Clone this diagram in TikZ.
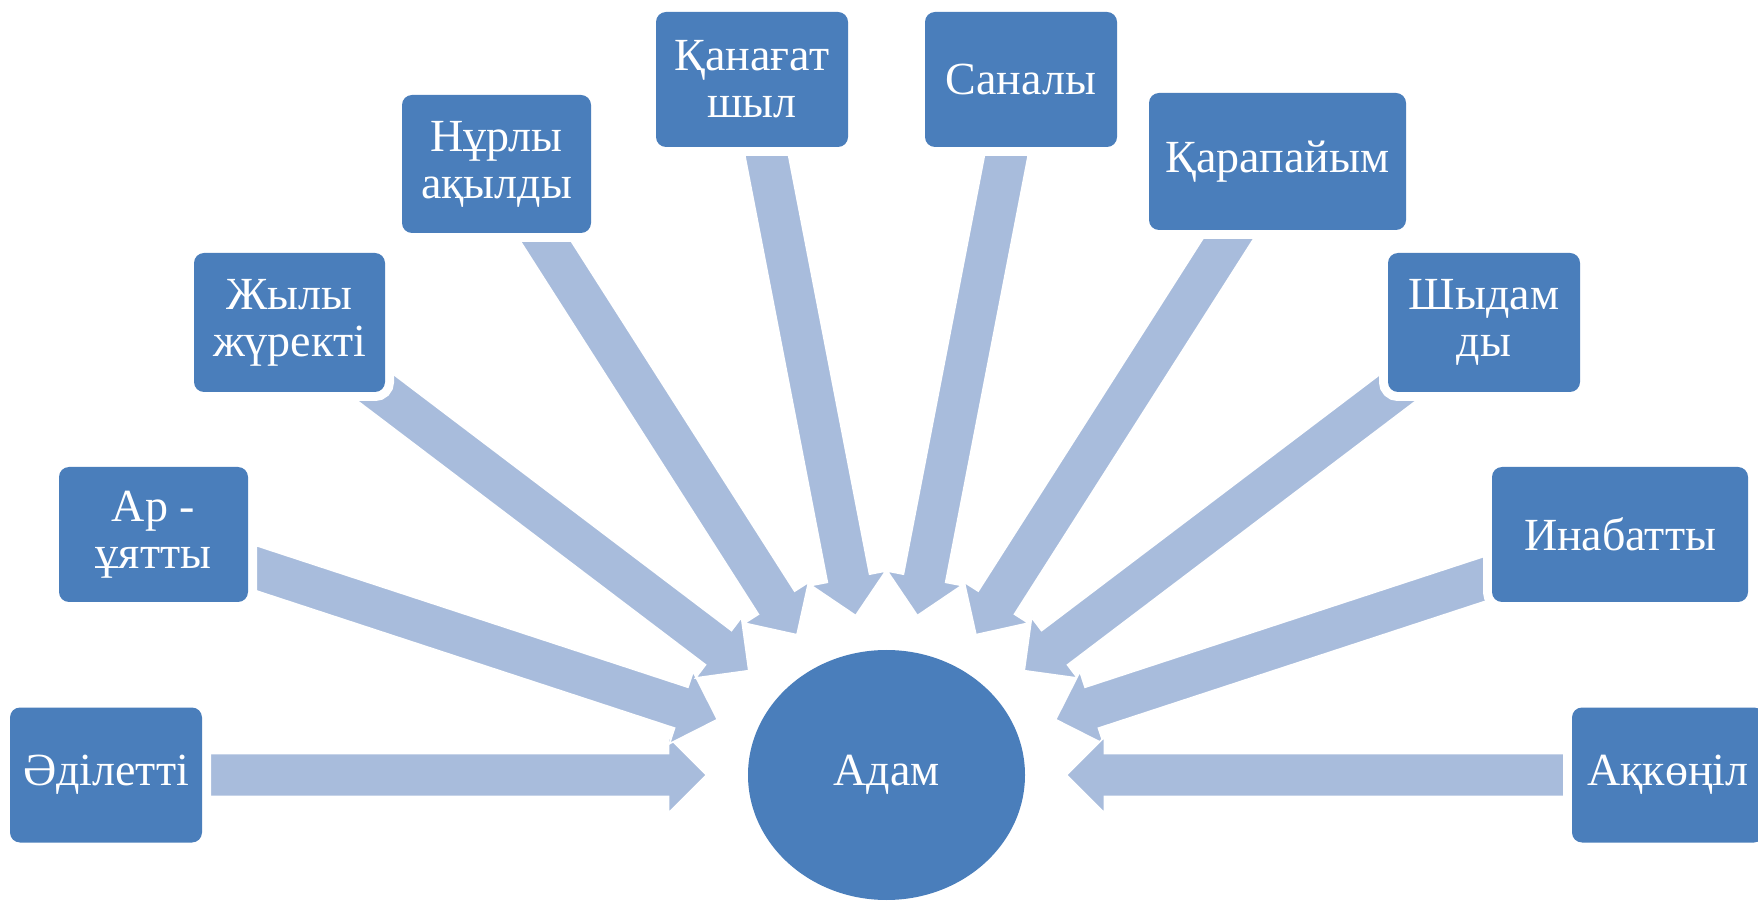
\documentclass[tikz,border=0pt]{standalone}
\usepackage{fontspec}
\setmainfont{Liberation Serif}
\usetikzlibrary{calc,shapes.geometric}
\pgfdeclarelayer{background}
\pgfsetlayers{background,main}
\definecolor{boxblue}{HTML}{4A7EBB}
\definecolor{arrowblue}{HTML}{A8BCDC}
\tikzset{
  quality/.style={rounded corners=5pt, fill=boxblue, inner sep=0pt, align=center,
    text=white, font=\fontsize{23pt}{23.5pt}\selectfont,
    minimum height=67.5pt,
    preaction={draw=white, line width=9pt, rounded corners=5pt}},
  centre/.style={ellipse, fill=boxblue, inner sep=0pt, text=white,
    minimum width=138.5pt, minimum height=125pt,
    font=\fontsize{23pt}{23.5pt}\selectfont},
  arrowbody/.style={fill=arrowblue, draw=white, line width=0.8pt, line join=miter}
}
\newcommand\radarrow[2]{%
  \pgfmathsetmacro\tipd{#2}%
  \pgfmathsetmacro\based{#2+19}%
  \coordinate (tip-#1) at ($(adam.center)!\tipd pt!(#1.center)$);
  \coordinate (hb-#1) at ($(adam.center)!\based pt!(#1.center)$);
  \filldraw[arrowbody] (tip-#1)
    -- ($(hb-#1)!19pt!90:(#1.center)$)
    -- ($(hb-#1)!10.75pt!90:(#1.center)$)
    -- ($(#1.center)!10.75pt!-90:(adam.center)$)
    -- ($(#1.center)!10.75pt!90:(adam.center)$)
    -- ($(hb-#1)!10.75pt!-90:(#1.center)$)
    -- ($(hb-#1)!19pt!-90:(#1.center)$)
    -- cycle;}
\begin{document}
\begin{tikzpicture}[x=0.5pt,y=0.5pt]
\useasboundingbox (0,0) rectangle (1758,901);
\node[centre] (adam) at (886.5,126) {Адам};
\node[quality, minimum width=96pt] (adil) at (106,126) {Әділетті};
\node[quality, minimum width=94.5pt] (ar) at (153.5,366.5) {Ар -\\ұятты};
\node[quality, minimum width=95.5pt, minimum height=69.5pt] (zhyly) at (289.5,578.5) {Жылы\\жүректі};
\node[quality, minimum width=94.5pt, minimum height=69pt] (nurly) at (496.5,737) {Нұрлы\\ақылды};
\node[quality, minimum width=96pt] (qanag) at (752,821.5) {Қанағат\\шыл};
\node[quality, minimum width=96pt] (sanaly) at (1021,821.5) {Саналы};
\node[quality, minimum width=128.5pt, minimum height=68.5pt] (qarap) at (1277.5,739.5) {Қарапайым};
\node[quality, minimum width=96pt, minimum height=69.5pt] (shydam) at (1484,578.5) {Шыдам\\ды};
\node[quality, minimum width=128pt] (inab) at (1620,366.5) {Инабатты};
\node[quality, minimum width=96pt] (akkon) at (1668,126) {Ақкөңіл};
\begin{pgfonlayer}{background}
\fill[white] (0,0) rectangle (1758,901);
\radarrow{adil}{90}
\radarrow{ar}{89}
\radarrow{zhyly}{86.4}
\radarrow{nurly}{83.2}
\radarrow{qanag}{81.2}
\radarrow{sanaly}{81.2}
\radarrow{qarap}{83.2}
\radarrow{shydam}{86.4}
\radarrow{inab}{89}
\radarrow{akkon}{90}
\end{pgfonlayer}
\end{tikzpicture}
\end{document}
